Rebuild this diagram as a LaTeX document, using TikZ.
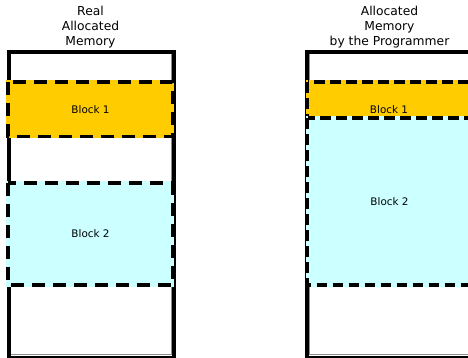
\documentclass[tikz,border=0pt]{standalone}
\usepackage{fontspec}
\setmainfont{DejaVu Sans}
\definecolor{blockyellow}{HTML}{FFCC00}
\definecolor{blockcyan}{HTML}{CCFFFF}
\begin{document}
\begin{tikzpicture}[x=1pt,y=-1pt,
  frame/.style={draw=black,line width=4pt,fill=white},
  innerline/.style={draw=black!45,line width=0.8pt},
  blockfill/.style={line width=3.2pt},
  blockedge/.style={draw=black,line width=3.2pt},
  longdash/.style={dash pattern=on 13pt off 8pt},
  shortdash/.style={dash pattern=on 10.5pt off 5.5pt},
  title/.style={align=center,font=\fontsize{12.3}{15}\selectfont,inner sep=0pt},
  blocklabel/.style={font=\fontsize{10.4}{12}\selectfont,inner sep=0pt}]
\useasboundingbox (0,0) rectangle (468,357);
\begin{scope}
\clip (0,0) rectangle (468,357);

% left column: memory really handed out
\draw[frame] (8.5,51.5) rectangle (174,357.5);
\draw[innerline] (9,52) rectangle (171.3,354.3);
\draw[frame,fill=none] (8.5,51.5) rectangle (174,357.5);
\fill[blockyellow,draw=blockyellow,blockfill] (8,82) rectangle (172.5,136.5);
\draw[blockedge,longdash] (8,82) rectangle (172.5,136.5);
\fill[blockcyan,draw=blockcyan,blockfill] (8,183) rectangle (172.5,285);
\draw[blockedge,longdash] (8,183) rectangle (172.5,285);

% right column: memory as requested in the code
\draw[frame] (307,51.5) rectangle (472.5,357.5);
\draw[innerline] (309.7,52) rectangle (480,354.3);
\draw[frame,fill=none] (307,51.5) rectangle (472.5,357.5);
\fill[blockyellow,draw=blockyellow,blockfill] (307.5,82) rectangle (472,118);
\draw[blockedge,shortdash] (307.5,82) rectangle (472,118);
\fill[blockcyan,draw=blockcyan,blockfill] (307.5,118) rectangle (472,285);
\draw[blockedge,shortdash] (307.5,118) rectangle (472,285);
\end{scope}

% labels
\node[title] (realtitle) at (90.5,27) {Real\\Allocated\\Memory};
\node[title] (progtitle) at (389.5,27) {Allocated\\Memory\\by the Programmer};
\node[blocklabel] (lb1) at (90.5,110) {Block 1};
\node[blocklabel] (lb2) at (90.5,234) {Block 2};
\node[blocklabel] (rb1) at (389,110) {Block 1};
\node[blocklabel] (rb2) at (389.5,201.5) {Block 2};
\end{tikzpicture}
\end{document}
